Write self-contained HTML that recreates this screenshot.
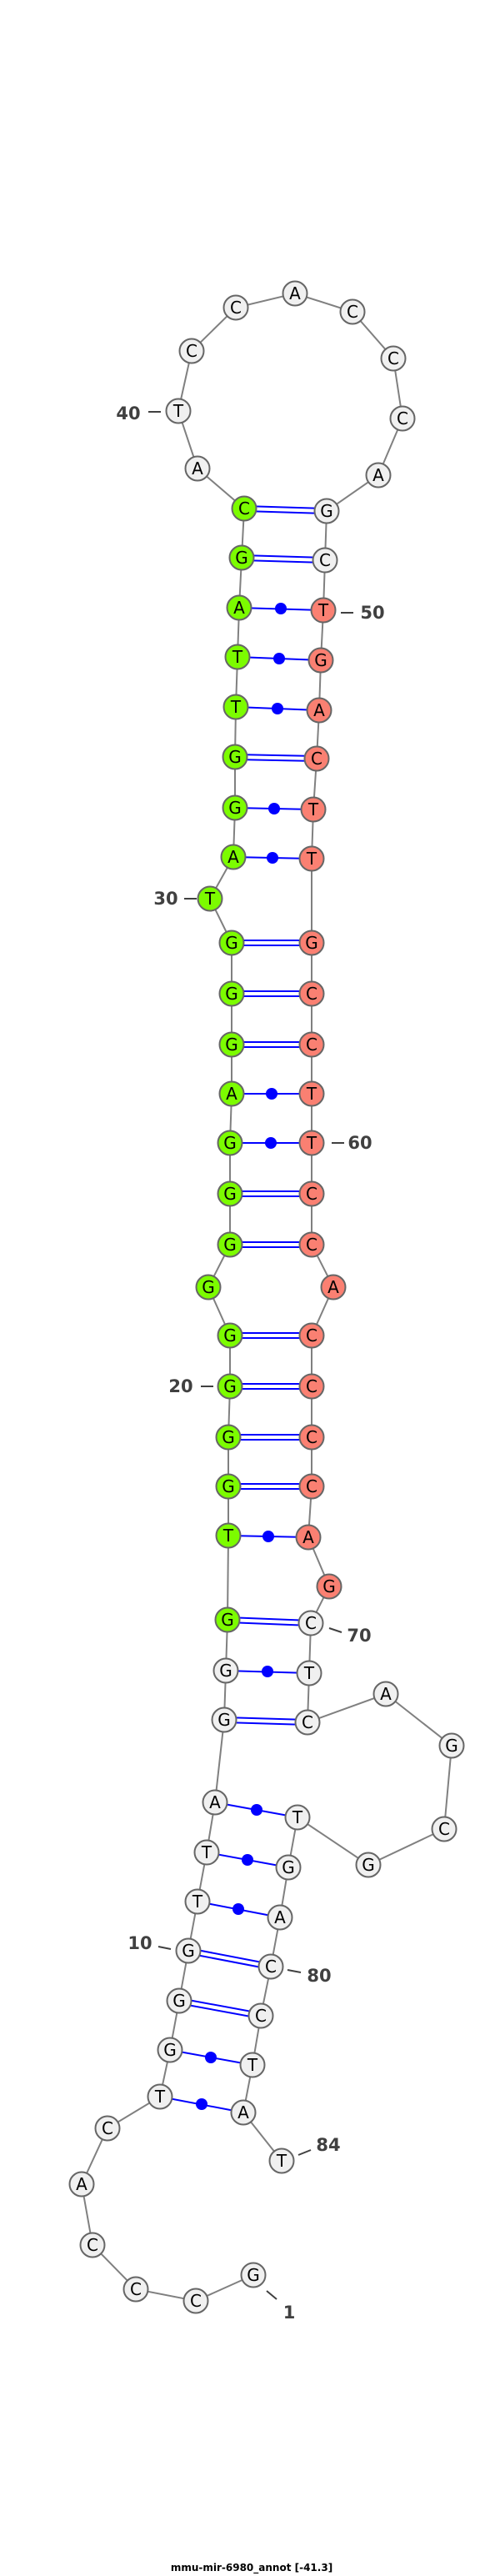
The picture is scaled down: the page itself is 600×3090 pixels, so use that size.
<!DOCTYPE html>
<html><head><meta charset="utf-8"><style>
html,body{margin:0;padding:0;background:#fff;}
svg{display:block;}
.b{stroke:#808080;stroke-width:2;fill:none;}
.p{stroke:#0000ff;stroke-width:2;}
.n circle{stroke:#666;stroke-width:2;}
.n text{font-family:"DejaVu Sans","Liberation Sans",sans-serif;font-size:20px;text-anchor:middle;dominant-baseline:central;fill:#000;}
.w{fill:#f0f0f0;}.g{fill:#7cfc00;}.r{fill:#fa8072;}
.l{font-family:"DejaVu Sans","Liberation Sans",sans-serif;font-weight:bold;font-size:21px;fill:#404040;text-anchor:middle;dominant-baseline:central;}
.t{stroke:#404040;stroke-width:2;}
</style></head><body>
<svg width="600" height="3090" viewBox="0 0 600 3090" xmlns="http://www.w3.org/2000/svg">
<polyline class="b" points="304,2729 235,2760 163,2746 111,2693 98,2620 129,2553 192,2515 204,2459 215,2400 226,2340 237,2281 248,2222 258,2162 269,2063 271,2004 273,1943 274,1842 274,1783 274,1724 276,1663 276,1602 250,1544 276,1493 276,1432 276,1371 278,1312 278,1253 278,1192 278,1131 252,1078 280,1028 282,969 282,908 283,848 285,788 287,729 290,669 293,610 237,562 214,493 230,421 283,369 354,352 423,374 472,430 483,502 454,570 392,613 390,672 388,732 385,792 383,852 380,910 376,971 374,1030 374,1131 374,1192 374,1253 374,1312 374,1371 374,1432 374,1493 400,1544 374,1602 374,1663 374,1724 374,1783 370,1844 395,1903 373,1947 371,2007 369,2066 463,2032 542,2094 533,2194 442,2237 357,2180 346,2240 336,2300 325,2359 313,2418 303,2477 292,2534 338,2592"/>
<g class="p">
<line x1="293" y1="607" x2="392" y2="610"/><line x1="293" y1="613" x2="392" y2="616"/>
<line x1="290" y1="666" x2="390" y2="669"/><line x1="290" y1="672" x2="390" y2="675"/>
<line x1="287" y1="729" x2="388" y2="732"/>
<line x1="285" y1="788" x2="385" y2="792"/>
<line x1="283" y1="848" x2="383" y2="852"/>
<line x1="282" y1="905" x2="380" y2="907"/><line x1="282" y1="911" x2="380" y2="913"/>
<line x1="282" y1="969" x2="376" y2="971"/>
<line x1="280" y1="1028" x2="374" y2="1030"/>
<line x1="278" y1="1128" x2="374" y2="1128"/><line x1="278" y1="1134" x2="374" y2="1134"/>
<line x1="278" y1="1189" x2="374" y2="1189"/><line x1="278" y1="1195" x2="374" y2="1195"/>
<line x1="278" y1="1250" x2="374" y2="1250"/><line x1="278" y1="1256" x2="374" y2="1256"/>
<line x1="278" y1="1312" x2="374" y2="1312"/>
<line x1="276" y1="1371" x2="374" y2="1371"/>
<line x1="276" y1="1429" x2="374" y2="1429"/><line x1="276" y1="1435" x2="374" y2="1435"/>
<line x1="276" y1="1490" x2="374" y2="1490"/><line x1="276" y1="1496" x2="374" y2="1496"/>
<line x1="276" y1="1599" x2="374" y2="1599"/><line x1="276" y1="1605" x2="374" y2="1605"/>
<line x1="276" y1="1660" x2="374" y2="1660"/><line x1="276" y1="1666" x2="374" y2="1666"/>
<line x1="274" y1="1721" x2="374" y2="1721"/><line x1="274" y1="1727" x2="374" y2="1727"/>
<line x1="274" y1="1780" x2="374" y2="1780"/><line x1="274" y1="1786" x2="374" y2="1786"/>
<line x1="274" y1="1842" x2="370" y2="1844"/>
<line x1="273" y1="1940" x2="373" y2="1944"/><line x1="273" y1="1946" x2="373" y2="1950"/>
<line x1="271" y1="2004" x2="371" y2="2007"/>
<line x1="269" y1="2060" x2="369" y2="2063"/><line x1="269" y1="2066" x2="369" y2="2069"/>
<line x1="258" y1="2162" x2="357" y2="2180"/>
<line x1="248" y1="2222" x2="346" y2="2240"/>
<line x1="237" y1="2281" x2="336" y2="2300"/>
<line x1="226" y1="2337" x2="325" y2="2356"/><line x1="225" y1="2343" x2="324" y2="2362"/>
<line x1="215" y1="2397" x2="313" y2="2415"/><line x1="214" y1="2403" x2="312" y2="2421"/>
<line x1="204" y1="2459" x2="303" y2="2477"/>
<line x1="192" y1="2515" x2="292" y2="2534"/>
</g>
<g fill="#0000ff">
<circle cx="337" cy="730" r="7"/><circle cx="335" cy="790" r="7"/><circle cx="333" cy="850" r="7"/>
<circle cx="329" cy="970" r="7"/><circle cx="327" cy="1029" r="7"/><circle cx="326" cy="1312" r="7"/>
<circle cx="325" cy="1371" r="7"/><circle cx="322" cy="1843" r="7"/><circle cx="321" cy="2005" r="7"/>
<circle cx="308" cy="2171" r="7"/><circle cx="297" cy="2231" r="7"/><circle cx="286" cy="2290" r="7"/>
<circle cx="253" cy="2468" r="7"/><circle cx="242" cy="2524" r="7"/>
</g>
<g class="n">
<circle class="w" cx="304" cy="2729" r="14.5"/><text x="304" y="2729">G</text>
<circle class="w" cx="235" cy="2760" r="14.5"/><text x="235" y="2760">C</text>
<circle class="w" cx="163" cy="2746" r="14.5"/><text x="163" y="2746">C</text>
<circle class="w" cx="111" cy="2693" r="14.5"/><text x="111" y="2693">C</text>
<circle class="w" cx="98" cy="2620" r="14.5"/><text x="98" y="2620">A</text>
<circle class="w" cx="129" cy="2553" r="14.5"/><text x="129" y="2553">C</text>
<circle class="w" cx="192" cy="2515" r="14.5"/><text x="192" y="2515">T</text>
<circle class="w" cx="204" cy="2459" r="14.5"/><text x="204" y="2459">G</text>
<circle class="w" cx="215" cy="2400" r="14.5"/><text x="215" y="2400">G</text>
<circle class="w" cx="226" cy="2340" r="14.5"/><text x="226" y="2340">G</text>
<circle class="w" cx="237" cy="2281" r="14.5"/><text x="237" y="2281">T</text>
<circle class="w" cx="248" cy="2222" r="14.5"/><text x="248" y="2222">T</text>
<circle class="w" cx="258" cy="2162" r="14.5"/><text x="258" y="2162">A</text>
<circle class="w" cx="269" cy="2063" r="14.5"/><text x="269" y="2063">G</text>
<circle class="w" cx="271" cy="2004" r="14.5"/><text x="271" y="2004">G</text>
<circle class="g" cx="273" cy="1943" r="14.5"/><text x="273" y="1943">G</text>
<circle class="g" cx="274" cy="1842" r="14.5"/><text x="274" y="1842">T</text>
<circle class="g" cx="274" cy="1783" r="14.5"/><text x="274" y="1783">G</text>
<circle class="g" cx="274" cy="1724" r="14.5"/><text x="274" y="1724">G</text>
<circle class="g" cx="276" cy="1663" r="14.5"/><text x="276" y="1663">G</text>
<circle class="g" cx="276" cy="1602" r="14.5"/><text x="276" y="1602">G</text>
<circle class="g" cx="250" cy="1544" r="14.5"/><text x="250" y="1544">G</text>
<circle class="g" cx="276" cy="1493" r="14.5"/><text x="276" y="1493">G</text>
<circle class="g" cx="276" cy="1432" r="14.5"/><text x="276" y="1432">G</text>
<circle class="g" cx="276" cy="1371" r="14.5"/><text x="276" y="1371">G</text>
<circle class="g" cx="278" cy="1312" r="14.5"/><text x="278" y="1312">A</text>
<circle class="g" cx="278" cy="1253" r="14.5"/><text x="278" y="1253">G</text>
<circle class="g" cx="278" cy="1192" r="14.5"/><text x="278" y="1192">G</text>
<circle class="g" cx="278" cy="1131" r="14.5"/><text x="278" y="1131">G</text>
<circle class="g" cx="252" cy="1078" r="14.5"/><text x="252" y="1078">T</text>
<circle class="g" cx="280" cy="1028" r="14.5"/><text x="280" y="1028">A</text>
<circle class="g" cx="282" cy="969" r="14.5"/><text x="282" y="969">G</text>
<circle class="g" cx="282" cy="908" r="14.5"/><text x="282" y="908">G</text>
<circle class="g" cx="283" cy="848" r="14.5"/><text x="283" y="848">T</text>
<circle class="g" cx="285" cy="788" r="14.5"/><text x="285" y="788">T</text>
<circle class="g" cx="287" cy="729" r="14.5"/><text x="287" y="729">A</text>
<circle class="g" cx="290" cy="669" r="14.5"/><text x="290" y="669">G</text>
<circle class="g" cx="293" cy="610" r="14.5"/><text x="293" y="610">C</text>
<circle class="w" cx="237" cy="562" r="14.5"/><text x="237" y="562">A</text>
<circle class="w" cx="214" cy="493" r="14.5"/><text x="214" y="493">T</text>
<circle class="w" cx="230" cy="421" r="14.5"/><text x="230" y="421">C</text>
<circle class="w" cx="283" cy="369" r="14.5"/><text x="283" y="369">C</text>
<circle class="w" cx="354" cy="352" r="14.5"/><text x="354" y="352">A</text>
<circle class="w" cx="423" cy="374" r="14.5"/><text x="423" y="374">C</text>
<circle class="w" cx="472" cy="430" r="14.5"/><text x="472" y="430">C</text>
<circle class="w" cx="483" cy="502" r="14.5"/><text x="483" y="502">C</text>
<circle class="w" cx="454" cy="570" r="14.5"/><text x="454" y="570">A</text>
<circle class="w" cx="392" cy="613" r="14.5"/><text x="392" y="613">G</text>
<circle class="w" cx="390" cy="672" r="14.5"/><text x="390" y="672">C</text>
<circle class="r" cx="388" cy="732" r="14.5"/><text x="388" y="732">T</text>
<circle class="r" cx="385" cy="792" r="14.5"/><text x="385" y="792">G</text>
<circle class="r" cx="383" cy="852" r="14.5"/><text x="383" y="852">A</text>
<circle class="r" cx="380" cy="910" r="14.5"/><text x="380" y="910">C</text>
<circle class="r" cx="376" cy="971" r="14.5"/><text x="376" y="971">T</text>
<circle class="r" cx="374" cy="1030" r="14.5"/><text x="374" y="1030">T</text>
<circle class="r" cx="374" cy="1131" r="14.5"/><text x="374" y="1131">G</text>
<circle class="r" cx="374" cy="1192" r="14.5"/><text x="374" y="1192">C</text>
<circle class="r" cx="374" cy="1253" r="14.5"/><text x="374" y="1253">C</text>
<circle class="r" cx="374" cy="1312" r="14.5"/><text x="374" y="1312">T</text>
<circle class="r" cx="374" cy="1371" r="14.5"/><text x="374" y="1371">T</text>
<circle class="r" cx="374" cy="1432" r="14.5"/><text x="374" y="1432">C</text>
<circle class="r" cx="374" cy="1493" r="14.5"/><text x="374" y="1493">C</text>
<circle class="r" cx="400" cy="1544" r="14.5"/><text x="400" y="1544">A</text>
<circle class="r" cx="374" cy="1602" r="14.5"/><text x="374" y="1602">C</text>
<circle class="r" cx="374" cy="1663" r="14.5"/><text x="374" y="1663">C</text>
<circle class="r" cx="374" cy="1724" r="14.5"/><text x="374" y="1724">C</text>
<circle class="r" cx="374" cy="1783" r="14.5"/><text x="374" y="1783">C</text>
<circle class="r" cx="370" cy="1844" r="14.5"/><text x="370" y="1844">A</text>
<circle class="r" cx="395" cy="1903" r="14.5"/><text x="395" y="1903">G</text>
<circle class="w" cx="373" cy="1947" r="14.5"/><text x="373" y="1947">C</text>
<circle class="w" cx="371" cy="2007" r="14.5"/><text x="371" y="2007">T</text>
<circle class="w" cx="369" cy="2066" r="14.5"/><text x="369" y="2066">C</text>
<circle class="w" cx="463" cy="2032" r="14.5"/><text x="463" y="2032">A</text>
<circle class="w" cx="542" cy="2094" r="14.5"/><text x="542" y="2094">G</text>
<circle class="w" cx="533" cy="2194" r="14.5"/><text x="533" y="2194">C</text>
<circle class="w" cx="442" cy="2237" r="14.5"/><text x="442" y="2237">G</text>
<circle class="w" cx="357" cy="2180" r="14.5"/><text x="357" y="2180">T</text>
<circle class="w" cx="346" cy="2240" r="14.5"/><text x="346" y="2240">G</text>
<circle class="w" cx="336" cy="2300" r="14.5"/><text x="336" y="2300">A</text>
<circle class="w" cx="325" cy="2359" r="14.5"/><text x="325" y="2359">C</text>
<circle class="w" cx="313" cy="2418" r="14.5"/><text x="313" y="2418">C</text>
<circle class="w" cx="303" cy="2477" r="14.5"/><text x="303" y="2477">T</text>
<circle class="w" cx="292" cy="2534" r="14.5"/><text x="292" y="2534">A</text>
<circle class="w" cx="338" cy="2592" r="14.5"/><text x="338" y="2592">T</text>
</g>
<g class="t">
<line x1="320" y1="2748" x2="332" y2="2758"/>
<line x1="190" y1="2335" x2="205" y2="2338"/>
<line x1="241" y1="1663" x2="256" y2="1663"/>
<line x1="221" y1="1078" x2="236" y2="1078"/>
<line x1="178" y1="494" x2="193" y2="494"/>
<line x1="409" y1="735" x2="424" y2="735"/>
<line x1="398" y1="1371" x2="413" y2="1371"/>
<line x1="395" y1="1953" x2="410" y2="1958"/>
<line x1="345" y1="2363" x2="361" y2="2366"/>
<line x1="358" y1="2585" x2="373" y2="2579"/>
</g>
<text class="l" x="347" y="2774">1</text>
<text class="l" x="168" y="2331">10</text>
<text class="l" x="217" y="1663">20</text>
<text class="l" x="199" y="1078">30</text>
<text class="l" x="154" y="496">40</text>
<text class="l" x="447" y="735">50</text>
<text class="l" x="432" y="1371">60</text>
<text class="l" x="431" y="1962">70</text>
<text class="l" x="383" y="2370">80</text>
<text class="l" x="394" y="2573">84</text>
<text x="302" y="3084" text-anchor="middle" font-family="'DejaVu Sans','Liberation Sans',sans-serif" font-weight="bold" font-size="12" fill="#000">mmu-mir-6980_annot [-41.3]</text>
</svg>
</body></html>
